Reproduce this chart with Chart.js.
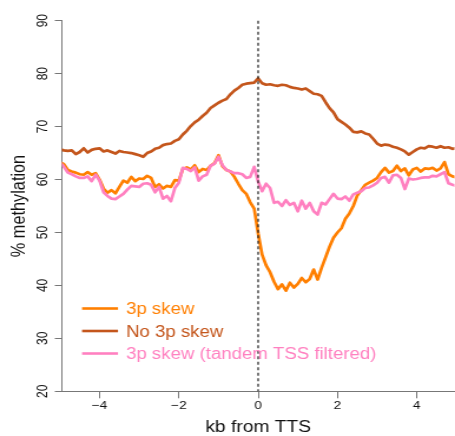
<!DOCTYPE html>
<html>
<head>
<meta charset="utf-8">
<title>Methylation around TTS</title>
<script src="https://cdn.jsdelivr.net/npm/chart.js@4.4.1/dist/chart.umd.min.js"></script>
<style>
  html, body { margin: 0; padding: 0; background: #fff; overflow: hidden; }
  #wrap { width: 455px; height: 436px; overflow: hidden; }
  /* the reference plot is stretched sideways, so we draw narrow and stretch */
  #methCanvas { transform: scaleX(1.17876); transform-origin: 0 0; }
</style>
</head>
<body>
<div id="wrap"><canvas id="methCanvas" width="386" height="436"></canvas></div>
<script>
// kb from TTS
const kbPositions = [
  -5.0, -4.9, -4.8, -4.7, -4.6, -4.5, -4.4, -4.3, -4.2, -4.1,
  -4.0, -3.9, -3.8, -3.7, -3.6, -3.5, -3.4, -3.3, -3.2, -3.1,
  -3.0, -2.9, -2.8, -2.7, -2.6, -2.5, -2.4, -2.3, -2.2, -2.1,
  -2.0, -1.9, -1.8, -1.7, -1.6, -1.5, -1.4, -1.3, -1.2, -1.1,
  -1.0, -0.9, -0.8, -0.7, -0.6, -0.5, -0.4, -0.3, -0.2, -0.1,
   0.0,  0.1,  0.2,  0.3,  0.4,  0.5,  0.6,  0.7,  0.8,  0.9,
   1.0,  1.1,  1.2,  1.3,  1.4,  1.5,  1.6,  1.7,  1.8,  1.9,
   2.0,  2.1,  2.2,  2.3,  2.4,  2.5,  2.6,  2.7,  2.8,  2.9,
   3.0,  3.1,  3.2,  3.3,  3.4,  3.5,  3.6,  3.7,  3.8,  3.9,
   4.0,  4.1,  4.2,  4.3,  4.4,  4.5,  4.6,  4.7,  4.8,  4.9,
   5.0
];

// % methylation, 3p skew
const skew3p = [
  63.3, 62.9, 61.8, 61.5, 61.3, 61.0, 60.9, 61.4, 60.9, 61.2,
  60.0, 58.3, 57.5, 58.0, 57.4, 58.6, 59.8, 59.4, 60.5, 59.7,
  60.2, 60.1, 60.7, 60.3, 58.6, 59.1, 58.3, 58.8, 58.6, 59.9,
  59.8, 62.0, 62.3, 61.9, 62.7, 61.4, 62.0, 61.8, 62.6, 63.1,
  64.6, 62.5, 61.8, 61.5, 60.5, 59.2, 58.0, 57.3, 55.7, 54.5,
  49.8, 45.8, 43.8, 42.5, 40.7, 39.3, 40.2, 39.0, 40.5, 39.6,
  40.3, 41.4, 40.6, 41.2, 43.0, 41.1, 43.3, 45.3, 47.3, 49.0,
  50.0, 50.8, 52.6, 53.6, 55.0, 57.0, 58.0, 59.0, 59.4, 59.8,
  60.3, 61.4, 62.2, 61.3, 61.6, 62.6, 61.6, 62.1, 60.8, 61.9,
  62.2, 61.5, 62.1, 62.0, 62.2, 61.7, 62.1, 63.3, 61.0, 60.6,
  60.4
];

// % methylation, no 3p skew
const noSkew3p = [
  65.7, 65.5, 65.4, 65.5, 64.8, 65.2, 65.9, 65.1, 65.6, 65.8,
  65.9, 65.3, 65.5, 65.2, 64.9, 65.4, 65.2, 65.1, 65.0, 64.8,
  64.6, 64.3, 65.0, 65.3, 65.8, 66.0, 66.5, 66.7, 66.8, 67.3,
  67.6, 68.5, 69.2, 70.1, 70.8, 71.3, 72.0, 72.6, 73.5, 74.0,
  74.5, 74.9, 75.2, 76.1, 76.8, 77.3, 77.9, 78.1, 78.2, 78.3,
  79.1, 78.2, 77.9, 78.0, 77.8, 77.7, 77.9, 77.8, 77.5, 77.3,
  77.2, 77.0, 77.2, 76.7, 76.2, 76.1, 75.8, 74.6, 73.5, 72.7,
  71.4, 70.9, 70.4, 69.8, 69.0, 68.9, 69.1, 68.7, 68.5, 67.7,
  66.8, 66.4, 66.6, 66.5, 66.2, 66.0, 65.7, 65.3, 64.7, 65.2,
  65.7, 66.0, 65.9, 66.3, 66.2, 66.0, 66.3, 66.0, 66.1, 65.8,
  65.9
];

// % methylation, 3p skew with tandem TSS filtered
const skew3pFiltered = [
  63.3, 62.4, 61.3, 61.0, 60.6, 60.3, 60.3, 60.6, 59.7, 60.9,
  59.8, 57.6, 56.9, 56.4, 56.3, 56.8, 57.3, 58.1, 58.8, 58.7,
  58.6, 59.2, 59.3, 59.0, 57.6, 58.6, 56.4, 56.9, 55.9, 58.4,
  59.4, 62.2, 62.0, 61.6, 62.3, 59.8, 60.6, 60.9, 62.6, 63.0,
  64.3, 62.7, 61.8, 61.5, 61.2, 61.2, 61.0, 60.3, 60.5, 62.4,
  59.6, 57.8, 59.2, 58.4, 55.6, 55.8, 55.0, 56.1, 55.2, 55.6,
  54.0, 56.0, 54.5, 55.6, 54.0, 53.4, 55.6, 55.3, 56.3, 57.3,
  56.4, 56.3, 56.8, 56.0, 57.2, 57.5, 57.8, 58.4, 58.5, 58.9,
  59.4, 60.3, 60.5, 59.4, 60.8, 60.9, 60.3, 58.2, 60.2, 60.0,
  60.1, 60.3, 60.4, 60.4, 60.7, 60.6, 61.0, 61.4, 59.3, 59.0,
  58.8
];

const seriesLabels = ['3p skew', 'No 3p skew', '3p skew (tandem TSS filtered)'];
const seriesColors = ['#ff7f00', '#c4561c', '#ff80c0'];
const xTicks = [-4, -2, 0, 2, 4];
const yTicks = [20, 30, 40, 50, 60, 70, 80, 90];

const FONT = '"Liberation Sans", Arial, Helvetica, sans-serif';

function toPoints(values) {
  return values.map((v, i) => ({ x: kbPositions[i], y: v }));
}

function minusLabel(v) {
  return v < 0 ? '\u2212' + Math.abs(v) : String(v);
}

// dashed line at the TTS
const ttsLine = {
  id: 'ttsLine',
  afterDatasetsDraw(chart) {
    const { ctx, chartArea } = chart;
    const x = chart.scales.x.getPixelForValue(0);
    ctx.save();
    ctx.strokeStyle = '#222';
    ctx.lineWidth = 1.2;
    ctx.setLineDash([3, 2.5]);
    ctx.beginPath();
    ctx.moveTo(x, chartArea.top);
    ctx.lineTo(x, chartArea.bottom);
    ctx.stroke();
    ctx.restore();
  }
};

// legend in the lower left corner, text in the series colour
const cornerLegend = {
  id: 'cornerLegend',
  afterDraw(chart) {
    const ctx = chart.ctx;
    const rows = [308.5, 331, 353.5];
    ctx.save();
    ctx.font = '15.8px ' + FONT;
    ctx.textAlign = 'left';
    ctx.textBaseline = 'alphabetic';
    chart.data.datasets.forEach((ds, i) => {
      const y = rows[i];
      ctx.strokeStyle = ds.borderColor;
      ctx.lineWidth = 2.6;
      ctx.beginPath();
      ctx.moveTo(69.6, y);
      ctx.lineTo(100.1, y);
      ctx.stroke();
      ctx.fillStyle = ds.borderColor;
      ctx.fillText(ds.label, 106.9, y + 5.6);
    });
    ctx.restore();
  }
};

function makeDataset(i, values, order) {
  return {
    label: seriesLabels[i],
    data: toPoints(values),
    borderColor: seriesColors[i],
    backgroundColor: seriesColors[i],
    borderWidth: 2.7,
    borderJoinStyle: 'round',
    borderCapStyle: 'round',
    pointRadius: 0,
    tension: 0,
    fill: false,
    order: order
  };
}

const ctx = document.getElementById('methCanvas').getContext('2d');
const chart = new Chart(ctx, {
  type: 'line',
  data: {
    datasets: [
      makeDataset(0, skew3p, 2),
      makeDataset(1, noSkew3p, 1),
      makeDataset(2, skew3pFiltered, 0)
    ]
  },
  options: {
    responsive: false,
    maintainAspectRatio: false,
    animation: false,
    devicePixelRatio: 1,
    layout: { padding: { top: 20.7, right: 0.5, bottom: 0, left: 0 } },
    plugins: {
      legend: { display: false },
      tooltip: { enabled: false }
    },
    scales: {
      x: {
        type: 'linear',
        min: -4.95,
        max: 4.95,
        afterBuildTicks: (scale) => { scale.ticks = xTicks.map(v => ({ value: v })); },
        afterFit: (scale) => { scale.height = 44.7; },
        ticks: {
          callback: minusLabel,
          autoSkip: false,
          maxRotation: 0,
          padding: 0.5,
          color: '#111',
          font: { family: FONT, size: 11.6 }
        },
        grid: {
          drawOnChartArea: false,
          drawTicks: true,
          tickLength: 7,
          color: '#777',
          lineWidth: 1
        },
        border: { display: true, color: '#777', width: 1 },
        title: {
          display: true,
          text: 'kb from TTS',
          color: '#111',
          padding: { top: 0, bottom: 0 },
          font: { family: FONT, size: 16.3, lineHeight: 1 }
        }
      },
      y: {
        type: 'linear',
        min: 20,
        max: 90,
        afterBuildTicks: (scale) => { scale.ticks = yTicks.map(v => ({ value: v })); },
        afterFit: (scale) => { scale.width = 52.5; },
        ticks: {
          minRotation: 90,
          maxRotation: 90,
          crossAlign: 'center',
          padding: 3,
          color: '#111',
          font: { family: FONT, size: 12 }
        },
        grid: {
          drawOnChartArea: false,
          drawTicks: true,
          tickLength: 6,
          color: '#777',
          lineWidth: 1
        },
        border: { display: true, color: '#777', width: 1 },
        title: {
          display: true,
          text: '% methylation',
          color: '#111',
          padding: { top: 8.85, bottom: 0 },
          font: { family: FONT, size: 16.3, lineHeight: 1 }
        }
      }
    }
  },
  plugins: [ttsLine, cornerLegend]
});
</script>
</body>
</html>
